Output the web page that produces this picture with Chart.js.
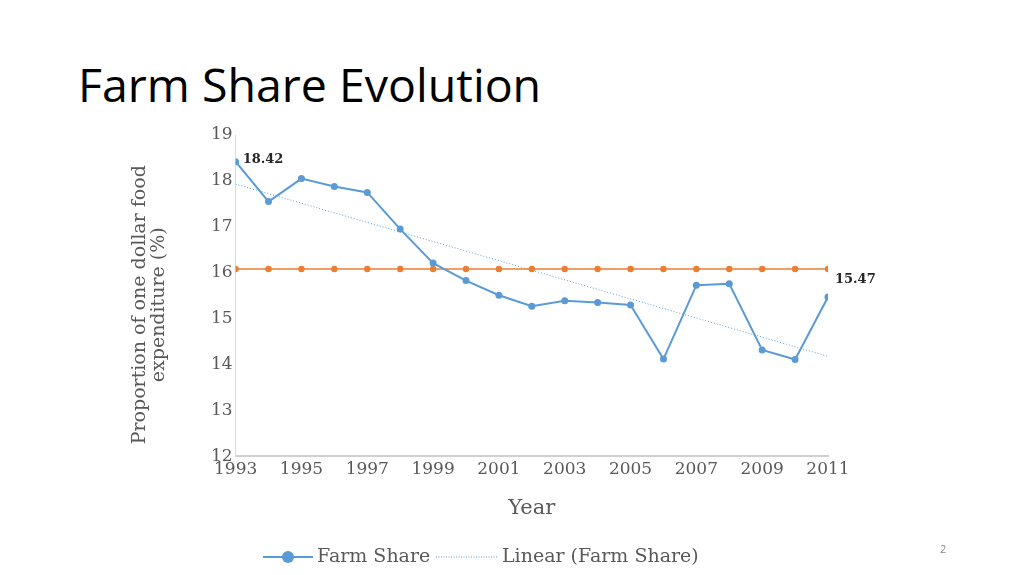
<!doctype html>
<html lang="en">
<head>
  <meta charset="UTF-8">
  <title>Farm Share Evolution</title>
  <script src="https://cdn.jsdelivr.net/npm/chart.js"></script>
  <style>
    html, body { margin: 0; padding: 0; background: #fff; }
    #wrap { position: relative; width: 1024px; height: 575px; overflow: hidden; }
    #title {
      position: absolute; left: 78px; top: 61px; margin: 0;
      font-family: "Open Sans", sans-serif; font-weight: 400; font-size: 46.5px;
      color: #000; line-height: 1;
    }
    #page { position: absolute; left: 940px; top: 541px; font-family: "Open Sans", sans-serif;
      font-size: 11px; color: #8a8a8a; }
    canvas { position: absolute; left: 0; top: 0; }
  </style>
</head>
<body>
<div id="wrap">
  <h1 id="title">Farm Share Evolution</h1>
  <canvas id="farmChart" width="1024" height="575"></canvas>
  <div id="page">2</div>
</div>
<script>
  // values
  const years = [1993, 1994, 1995, 1996, 1997, 1998, 1999, 2000, 2001, 2002,
                 2003, 2004, 2005, 2006, 2007, 2008, 2009, 2010, 2011];
  const farmShare = [18.42, 17.55, 18.05, 17.88, 17.75, 16.95, 16.21, 15.83, 15.51, 15.27,
                     15.39, 15.35, 15.30, 14.12, 15.73, 15.76, 14.32, 14.11, 15.47];
  const averageShare = [16.08, 16.08, 16.08, 16.08, 16.08, 16.08, 16.08, 16.08, 16.08, 16.08,
                        16.08, 16.08, 16.08, 16.08, 16.08, 16.08, 16.08, 16.08, 16.08];
  const trendYears = [1993, 2011];
  const trendValues = [17.93, 14.18];
  const yTicks = [12, 13, 14, 15, 16, 17, 18, 19];

  const BLUE = '#5b9bd5';
  const ORANGE = '#ed7d31';
  const GREY = '#595959';
  const SERIF = '"DejaVu Serif", serif';

  // labels on first and last point
  const pointLabels = {
    id: 'pointLabels',
    afterDatasetsDraw(chart) {
      const meta = chart.getDatasetMeta(0);
      const ctx = chart.ctx;
      ctx.save();
      ctx.font = 'bold 13px ' + SERIF;
      ctx.fillStyle = '#262626';
      ctx.textBaseline = 'middle';
      const last = meta.data.length - 1;
      [[0, 7, -2], [last, 7, -17]].forEach(([i, dx, dy]) => {
        const p = meta.data[i];
        ctx.fillText(farmShare[i].toFixed(2), p.x + dx, p.y + dy);
      });
      ctx.restore();
    }
  };

  // legend: line + marker for the series, dotted line for the trend
  const bottomLegend = {
    id: 'bottomLegend',
    afterDraw(chart) {
      const ctx = chart.ctx;
      const ds = chart.data.datasets;
      const y = 557;
      ctx.save();
      ctx.font = '19px ' + SERIF;
      ctx.fillStyle = GREY;
      ctx.textBaseline = 'middle';

      ctx.strokeStyle = BLUE;
      ctx.lineWidth = 2;
      ctx.beginPath(); ctx.moveTo(263, y); ctx.lineTo(313, y); ctx.stroke();
      ctx.fillStyle = BLUE;
      ctx.beginPath(); ctx.arc(288, y, 6, 0, Math.PI * 2); ctx.fill();
      ctx.fillStyle = GREY;
      ctx.fillText(ds[0].label, 317, y);

      ctx.strokeStyle = BLUE;
      ctx.lineWidth = 1;
      ctx.setLineDash([1, 1.5]);
      ctx.beginPath(); ctx.moveTo(436, y); ctx.lineTo(498, y); ctx.stroke();
      ctx.setLineDash([]);
      ctx.fillText(ds[2].label, 502, y);
      ctx.restore();
    }
  };

  new Chart(document.getElementById('farmChart'), {
    type: 'line',
    data: {
      datasets: [
        {
          label: 'Farm Share',
          data: years.map((x, i) => ({ x, y: farmShare[i] })),
          borderColor: BLUE, backgroundColor: BLUE,
          borderWidth: 2, pointRadius: 3.5, pointBorderWidth: 0,
          tension: 0, order: 1
        },
        {
          label: 'Average',
          data: years.map((x, i) => ({ x, y: averageShare[i] })),
          borderColor: ORANGE, backgroundColor: ORANGE,
          borderWidth: 1.5, pointRadius: 3.2, pointBorderWidth: 0,
          tension: 0, order: 2
        },
        {
          label: 'Linear (Farm Share)',
          data: trendYears.map((x, i) => ({ x, y: trendValues[i] })),
          borderColor: BLUE, borderWidth: 1, borderDash: [1, 2],
          pointRadius: 0, tension: 0, order: 3
        }
      ]
    },
    options: {
      responsive: false,
      animation: false,
      layout: { padding: { left: 131, right: 196, top: 135, bottom: 54 } },
      plugins: { legend: { display: false }, tooltip: { enabled: false } },
      scales: {
        x: {
          type: 'linear', min: 1993, max: 2011,
          grid: { display: true, color: 'rgba(0,0,0,0)', drawTicks: false },
          border: { display: true, color: '#d0d0d0', width: 2 },
          ticks: { stepSize: 2, padding: 3, color: GREY, font: { family: SERIF, size: 17 },
                   maxRotation: 0, callback: v => String(v) },
          title: { display: true, text: 'Year', color: GREY,
                   font: { family: SERIF, size: 21 }, padding: { top: 13, bottom: 0 } }
        },
        y: {
          min: 12, max: 19,
          afterBuildTicks: s => { s.ticks = yTicks.map(v => ({ value: v })); },
          grid: { display: true, color: 'rgba(0,0,0,0)', drawTicks: false },
          border: { display: true, color: '#d9d9d9', width: 1 },
          ticks: { padding: 3, color: GREY, font: { family: SERIF, size: 17 } },
          title: { display: true,
                   text: ['Proportion of one dollar food   ', 'expenditure (%)   '],
                   color: GREY, font: { family: SERIF, size: 19, lineHeight: 1.0 },
                   padding: { top: 0, bottom: 39 } }
        }
      }
    },
    plugins: [pointLabels, bottomLegend]
  });
</script>
</body>
</html>
